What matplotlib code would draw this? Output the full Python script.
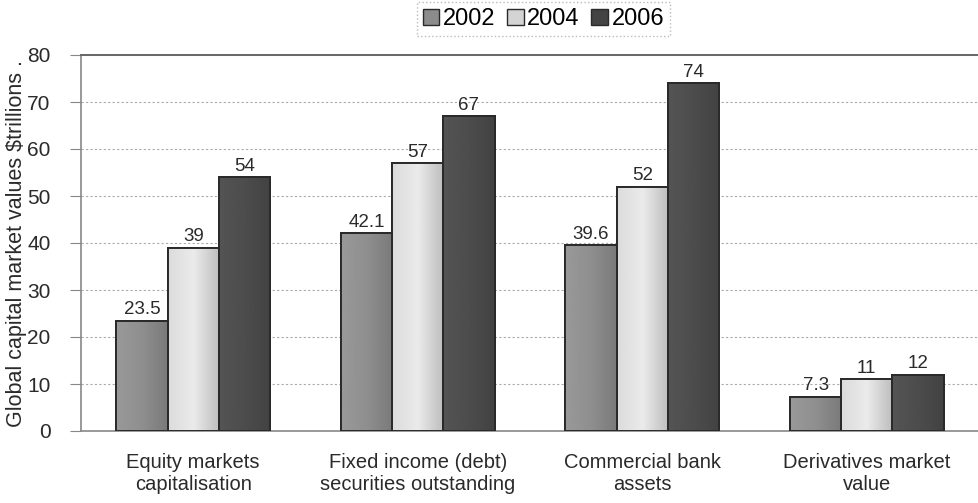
import numpy as np
import matplotlib
matplotlib.use("Agg")
import matplotlib.pyplot as plt
from matplotlib.patches import Patch

plt.rcParams["font.family"] = ["Liberation Sans", "DejaVu Sans"]

categories = ["Equity markets\ncapitalisation", "Fixed income (debt)\nsecurities outstanding",
              "Commercial bank\nassets", "Derivatives market\nvalue"]
years = ["2002", "2004", "2006"]
v2002 = [23.5, 42.1, 39.6, 7.3]
v2004 = [39, 57, 52, 11]
v2006 = [54, 67, 74, 12]
series = [v2002, v2004, v2006]

# horizontal shading across each bar: (left, middle, right) grey levels
shades = [(0.60, 0.56, 0.48), (0.86, 0.92, 0.74), (0.33, 0.30, 0.26)]
solid = ["#8c8c8c", "#d4d4d4", "#444444"]
ink = "#2a2a2a"

fig = plt.figure(figsize=(9.79, 5.03), dpi=100)
ax = fig.add_axes([81 / 979, 1 - 431 / 503, 898 / 979, 376 / 503])

x = np.arange(len(categories))
w = 0.228
for i, vals in enumerate(series):
    bars = ax.bar(x + (i - 1) * w, vals, w, color=solid[i], edgecolor=ink,
                  linewidth=1.4, zorder=3)
    l, m, r = shades[i]
    t = np.linspace(0, 1, 64)
    g = np.where(t < 0.5, l + (m - l) * t * 2, m + (r - m) * (t - 0.5) * 2)
    grad = np.tile(g, (2, 1))
    for b in bars:
        x0, h = b.get_x(), b.get_height()
        im = ax.imshow(grad, extent=[x0, x0 + b.get_width(), 0, h],
                       cmap="gray", vmin=0, vmax=1, aspect="auto", zorder=3.5,
                       interpolation="bilinear")
        im.set_clip_path(b)
        ax.add_patch(plt.Rectangle((x0, 0), b.get_width(), h, fill=False,
                                   edgecolor=ink, linewidth=1.4, zorder=4))
        ax.text(x0 + b.get_width() / 2, h + 0.5, f"{h:g}",
                ha="center", va="bottom", fontsize=13.5, color=ink, zorder=5)

ax.set_xlim(-0.5, len(categories) - 0.5)
ax.set_ylim(0, 80)
ax.set_yticks(range(0, 81, 10))
ax.set_xticks(x)
ax.set_xticklabels(categories, fontsize=14.5, color=ink, linespacing=1.2)
ax.tick_params(axis="y", labelsize=15, labelcolor=ink, length=8,
               color="#888888", pad=14)
ax.tick_params(axis="x", length=0, pad=16)
ax.set_ylabel("Global capital market values $trillions .", fontsize=15.5, color=ink)
ax.yaxis.set_label_coords(-0.060, 0.499)
ax.grid(axis="y", linestyle=(0, (2, 2)), color="#aaaaaa", linewidth=0.8, zorder=0)

for side in ["left", "bottom"]:
    ax.spines[side].set_color("#888888")
    ax.spines[side].set_linewidth(1.2)
ax.spines["top"].set_color("#666666")
ax.spines["top"].set_linewidth(1.4)
ax.spines["right"].set_visible(False)

handles = [Patch(facecolor=solid[i], edgecolor=ink, label=years[i]) for i in range(3)]
leg = fig.legend(handles=handles, loc="upper center", bbox_to_anchor=(0.555, 1.005),
                 ncol=3, fontsize=17, frameon=True, fancybox=False,
                 handlelength=0.7, handleheight=0.7, handletextpad=0.15,
                 columnspacing=0.5, borderpad=0.25, borderaxespad=0.2)
leg.get_frame().set_edgecolor("#aaaaaa")
leg.get_frame().set_linestyle(":")

fig.savefig("out.png", dpi=100)
